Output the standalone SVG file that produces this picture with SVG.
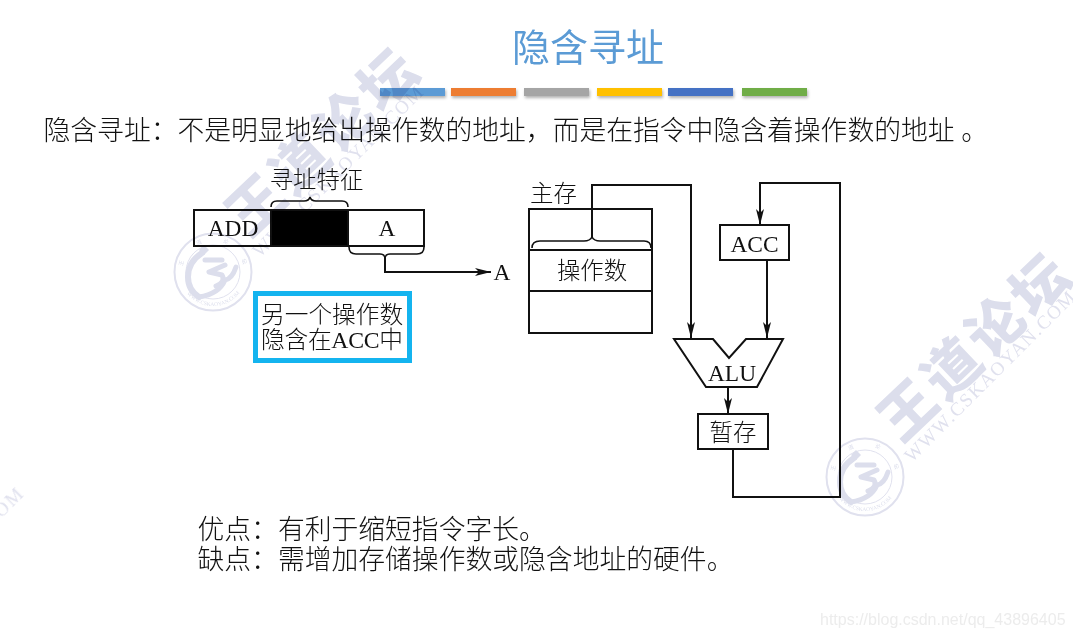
<svg xmlns="http://www.w3.org/2000/svg" width="1073" height="637" viewBox="0 0 1073 637" xml:lang="zh-CN">
<style>
text{font-family:"Liberation Serif","Noto Sans CJK SC",serif;fill:#111}
.t23{font-size:23.4px;font-weight:300}
.mid{text-anchor:middle}
.body{font-size:26.8px;font-weight:300}
.box{fill:none;stroke:#111;stroke-width:2}
.line{fill:none;stroke:#111;stroke-width:2}
.brace{fill:none;stroke:#111;stroke-width:1.6}
.arrow{marker-end:url(#ah)}
.bar{filter:url(#sh)}
.wm{fill:#dcdeec;font-family:"Noto Sans CJK SC",sans-serif;font-weight:900;font-size:56px}
.wm2{fill:#e0e1ee;font-size:19px;letter-spacing:1.6px}
.wm3{fill:#dcdeec;font-size:5.5px}
.ring{fill:none;stroke:#e0e1ee}
.sw{fill:none;stroke:#dcdeec;stroke-linecap:round;stroke-linejoin:round}
</style>
<defs>
<filter id="sh" x="-10%" y="-50%" width="120%" height="220%"><feDropShadow dx="1" dy="2" stdDeviation="1.5" flood-color="#000" flood-opacity=".3"/></filter>
<marker id="ah" markerUnits="userSpaceOnUse" markerWidth="18" markerHeight="10" refX="16" refY="4" orient="auto"><path d="M0 0L16 4L0 8L4 4Z" fill="#111"/></marker>
<path id="arcT" d="M-31 0A31 31 0 0 1 31 0"/>
<path id="arcB" d="M-34 0A34 34 0 0 0 34 0"/>
<text id="url" class="wm2" style="font-family:'Liberation Serif',serif">WWW.CSKAOYAN.COM</text>
<g id="mark">
<text class="wm" transform="translate(905 413) rotate(-43.500)" x="-24" y="20" letter-spacing="4.600">王道论坛</text>
<use href="#url" transform="translate(912 463) rotate(-45)"/>
<g transform="translate(865 477)">
<circle class="ring" r="38.500" stroke-width="2"/>
<circle class="ring" r="27" stroke-width="1"/>
<text class="wm3" style="font-family:'Noto Sans CJK SC',sans-serif"><textPath href="#arcT" startOffset="6%" textLength="84">王 道 论 坛</textPath></text>
<text class="wm3" style="font-family:'Liberation Serif',serif"><textPath href="#arcB" startOffset="22%">WWW.CSKAOYAN.COM</textPath></text>
<path class="sw" stroke-width="6" d="M-11 -19Q-25 -10 -25 5Q-25 18 -14 25"/>
<path class="sw" stroke-width="5" d="M-8 -12H9M12 -7L-4 0L9 3Q13 10 3 14"/>
<path class="sw" stroke-width="5" d="M-14 25Q6 22 12 8Q19 7 23 -5"/>
<path d="M-9 -27L-4 -22L-9 -17L-14 -22Z" fill="#dcdeec"/>
</g>
</g>
</defs>

<g id="title">
<text x="512" y="61" style="font-size:38px;fill:#5b9bd5;font-weight:400" textLength="152">隐含寻址</text>
<rect class="bar" x="380" y="88" width="65" height="8" fill="#5b9bd5"/>
<rect class="bar" x="451" y="88" width="65" height="8" fill="#ed7d31"/>
<rect class="bar" x="524" y="88" width="65" height="8" fill="#a5a5a5"/>
<rect class="bar" x="597" y="88" width="65" height="8" fill="#ffc000"/>
<rect class="bar" x="668" y="88" width="65" height="8" fill="#4472c4"/>
<rect class="bar" x="742" y="88" width="65" height="8" fill="#70ad47"/>
</g>
<text class="body" x="43.500" y="140">隐含寻址：不是明显地给出操作数的地址，而是在指令中隐含着操作数的地址 。</text>

<g id="connectors">
<path class="brace" d="M271 207Q271 201 277 201H304Q309 201 310 197Q311 201 316 201H342Q348 201 348 207"/>
<path class="brace" d="M349 247Q349 254 356 254H380Q385 254 385 259Q385 254 390 254H417Q424 254 424 247"/>
<path class="line arrow" d="M385 256V272H491"/>
<path class="brace" d="M532 248Q532 241 540 241H584Q590 241 592 237Q594 241 600 241H644Q651 241 651 248"/>
<path class="line arrow" d="M592 238V185H691V338"/>
<path class="line arrow" d="M733 449V497H840V183H760V225"/>
<path class="line arrow" d="M767 260V338"/>
<path class="line arrow" d="M728 387V414"/>
</g>

<g id="node-label"><text class="t23 mid" x="316.500" y="188">寻址特征</text></g>
<g id="node-add"><rect class="box" x="194" y="210" width="77" height="36"/><text class="t23 mid" x="233" y="236">ADD</text></g>
<g id="node-mode"><rect x="271" y="210" width="77" height="36" fill="#000" stroke="#111" stroke-width="2"/></g>
<g id="node-a"><rect class="box" x="348" y="210" width="76" height="36"/><text class="t23 mid" x="387" y="236">A</text></g>
<g id="node-a-out"><text class="t23 mid" x="502" y="280">A</text></g>
<g id="node-note">
<rect x="255.500" y="293.500" width="154" height="67" fill="none" stroke="#14b4ef" stroke-width="5"/>
<text class="t23" x="261" y="323" style="font-size:23.7px">另一个操作数</text>
<text class="t23" x="261" y="348" style="font-size:23.7px" textLength="142">隐含在ACC中</text>
</g>
<g id="node-memory">
<text class="t23" x="530" y="202">主存</text>
<rect class="box" x="529" y="209" width="123" height="124"/>
<path class="line" d="M529 250H652M529 291H652"/>
<text class="t23 mid" x="592" y="279">操作数</text>
</g>
<g id="node-acc"><rect class="box" x="720" y="225" width="69" height="35"/><text class="t23 mid" x="754.500" y="252">ACC</text></g>
<g id="node-alu"><path class="box" d="M674 339H713L729 358L746 339H783L757 387H706Z"/><text class="t23 mid" x="732" y="381">ALU</text></g>
<g id="node-temp"><rect class="box" x="698" y="414" width="70" height="35"/><text class="t23 mid" x="733" y="441">暂存</text></g>

<g id="notes">
<text class="body" x="197.500" y="539">优点：有利于缩短指令字长。</text>
<text class="body" x="197.500" y="569">缺点：需增加存储操作数或隐含地址的硬件。</text>
</g>

<g id="watermarks" style="mix-blend-mode:multiply">
<use href="#mark"/>
<use href="#mark" transform="translate(-652 -205)"/>
<use href="#url" transform="translate(-140 660) rotate(-45)"/>
<text x="820" y="625" style="font-family:'Liberation Sans',sans-serif;font-size:16px;fill:#ececec">https://blog.csdn.net/qq_43896405</text>
</g>
</svg>
